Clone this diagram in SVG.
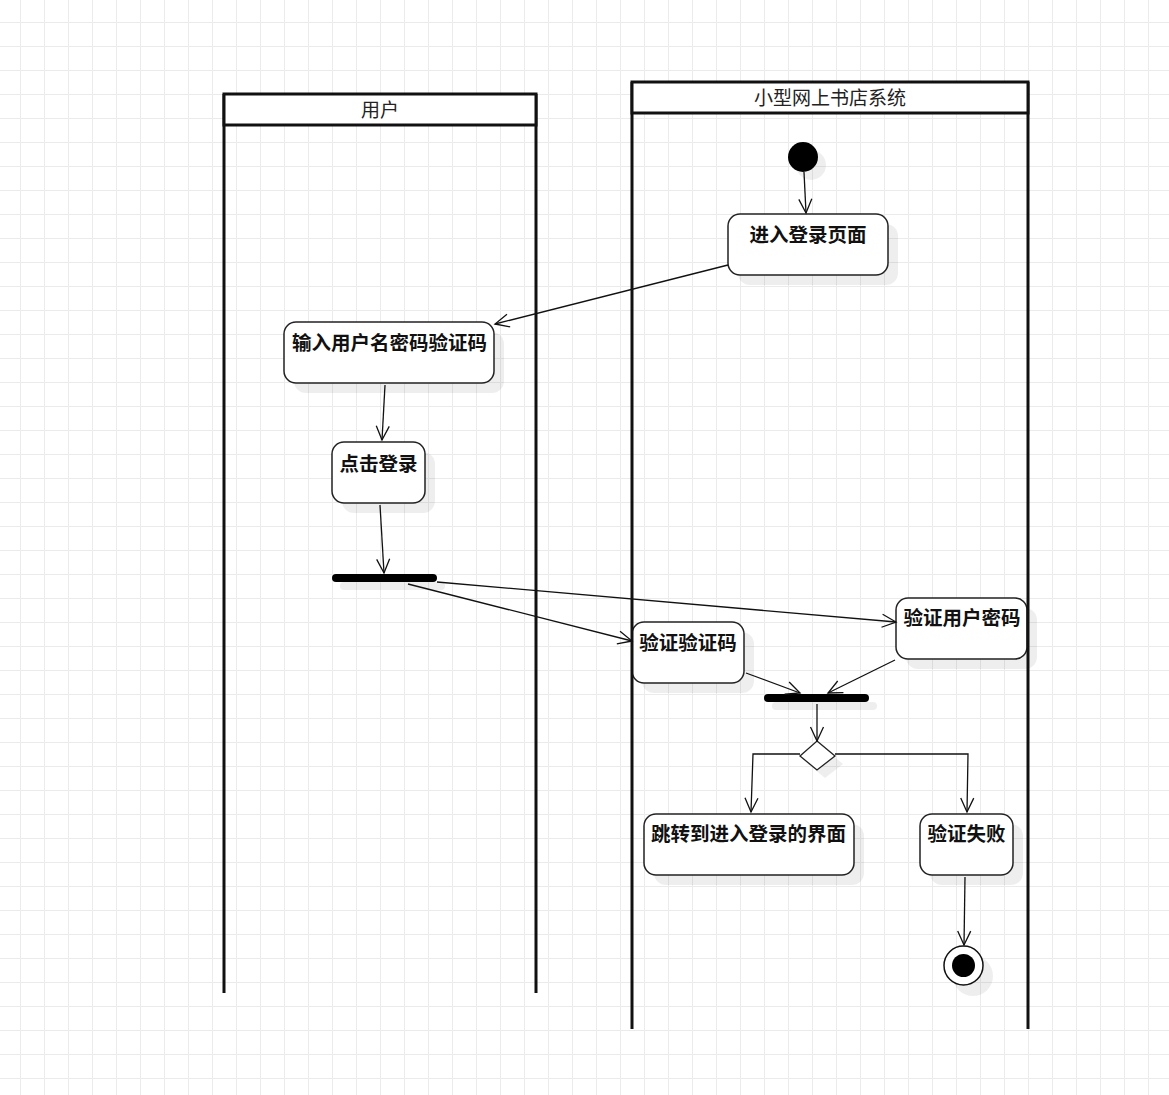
<svg xmlns="http://www.w3.org/2000/svg" width="1169" height="1095" viewBox="0 0 1169 1095">
<style>
.lane{fill:none;stroke:#111;stroke-width:3}
.head{fill:#fff;stroke:#111;stroke-width:3}
.htxt{font-family:"Noto Sans CJK SC","Noto Sans",sans-serif;font-size:19px;fill:#222;text-anchor:middle;dominant-baseline:central}
.act{fill:#fff;stroke:#222;stroke-width:1.5}
.shd{fill:#000;fill-opacity:0.065}
.ntxt{font-family:"Noto Sans CJK SC","Noto Sans",sans-serif;font-size:19.5px;font-weight:bold;fill:#111;text-anchor:middle;dominant-baseline:central}
.bar{fill:#000}
.edge{fill:none;stroke:#111;stroke-width:1.3;marker-end:url(#arr)}
</style>
<defs>
<pattern id="grid" patternUnits="userSpaceOnUse" x="20" y="22" width="24" height="24">
<rect x="0" y="0" width="1" height="24" fill="#ebebeb"/>
<rect x="0" y="0" width="24" height="1" fill="#ebebeb"/>
</pattern>
<marker id="arr" markerUnits="userSpaceOnUse" markerWidth="18" markerHeight="18" viewBox="0 0 18 18" refX="16" refY="9" orient="auto">
<path d="M2,2.5 L16,9 L2,15.5" fill="none" stroke="#111" stroke-width="1.3"/>
</marker>
</defs>
<rect width="1169" height="1095" fill="#fff"/>
<rect width="1169" height="1095" fill="url(#grid)"/>

<g id="start">
<circle class="shd" cx="811" cy="165" r="15"/>
<circle cx="803" cy="157" r="15" fill="#000"/>
</g>
<g id="n-enter-login">
<rect class="shd" x="738" y="224" width="160" height="61" rx="12"/>
<rect class="act" x="728" y="214" width="160" height="61" rx="12"/>
<text class="ntxt" x="808" y="233">进入登录页面</text>
</g>
<g id="n-input">
<rect class="shd" x="294" y="332" width="210" height="61" rx="12"/>
<rect class="act" x="284" y="322" width="210" height="61" rx="12"/>
<text class="ntxt" x="389.5" y="341">输入用户名密码验证码</text>
</g>
<g id="n-click">
<rect class="shd" x="342" y="452" width="93" height="61" rx="12"/>
<rect class="act" x="332" y="442" width="93" height="61" rx="12"/>
<text class="ntxt" x="378.5" y="462">点击登录</text>
</g>
<g id="fork1">
<rect class="shd" x="340" y="582" width="105" height="8" rx="4"/>
<rect class="bar" x="332" y="574" width="105" height="8" rx="4"/>
</g>
<g id="n-verify-code">
<rect class="shd" x="642" y="632" width="112" height="61" rx="12"/>
<rect class="act" x="632" y="622" width="112" height="61" rx="12"/>
<text class="ntxt" x="688" y="641">验证验证码</text>
</g>
<g id="n-verify-pwd">
<rect class="shd" x="906" y="608" width="131" height="61" rx="12"/>
<rect class="act" x="896" y="598" width="131" height="61" rx="12"/>
<text class="ntxt" x="962" y="616">验证用户密码</text>
</g>
<g id="join">
<rect class="shd" x="772" y="702" width="105" height="8" rx="4"/>
<rect class="bar" x="764" y="694" width="105" height="8" rx="4"/>
</g>
<g id="decision">
<polygon class="shd" points="825,749 843,764 825,778 808,764"/>
<polygon points="817,741 835,756 817,770 800,756" fill="#fff" stroke="#222" stroke-width="1.3"/>
</g>
<g id="n-jump">
<rect class="shd" x="654" y="824" width="210" height="61" rx="12"/>
<rect class="act" x="644" y="814" width="210" height="61" rx="12"/>
<text class="ntxt" x="748.5" y="832">跳转到进入登录的界面</text>
</g>
<g id="n-fail">
<rect class="shd" x="930" y="824" width="93" height="61" rx="12"/>
<rect class="act" x="920" y="814" width="93" height="61" rx="12"/>
<text class="ntxt" x="966.5" y="832">验证失败</text>
</g>
<g id="end">
<circle class="shd" cx="973" cy="976" r="20"/>
<circle cx="963.5" cy="965.5" r="19.5" fill="#fff" stroke="#111" stroke-width="1.5"/>
<circle cx="963.5" cy="965.5" r="11.5" fill="#000"/>
</g>

<g id="lane-user">
<path class="lane" d="M224,94 V993 M536,94 V993"/>
<rect class="head" x="224" y="94" width="312" height="31"/>
<text class="htxt" x="380" y="108">用户</text>
</g>
<g id="lane-system">
<path class="lane" d="M632,82 V1029 M1028,82 V1029"/>
<rect class="head" x="632" y="82" width="396" height="31"/>
<text class="htxt" x="830" y="96">小型网上书店系统</text>
</g>

<g id="connectors">
<path class="edge" d="M804,172 L806,213"/>
<path class="edge" d="M728,265 L495,324"/>
<path class="edge" d="M385,385 L382,440"/>
<path class="edge" d="M380,505 L384,573"/>
<path class="edge" d="M437,582 L896,622"/>
<path class="edge" d="M408,584 L632,641"/>
<path class="edge" d="M746,673 L800,693"/>
<path class="edge" d="M895,660 L828,693"/>
<path class="edge" d="M817,704 L817,741"/>
<path class="edge" d="M800,754 L753,754 L751,812"/>
<path class="edge" d="M835,754 L968,754 L967,812"/>
<path class="edge" d="M965,877 L964,945"/>
</g>
</svg>
